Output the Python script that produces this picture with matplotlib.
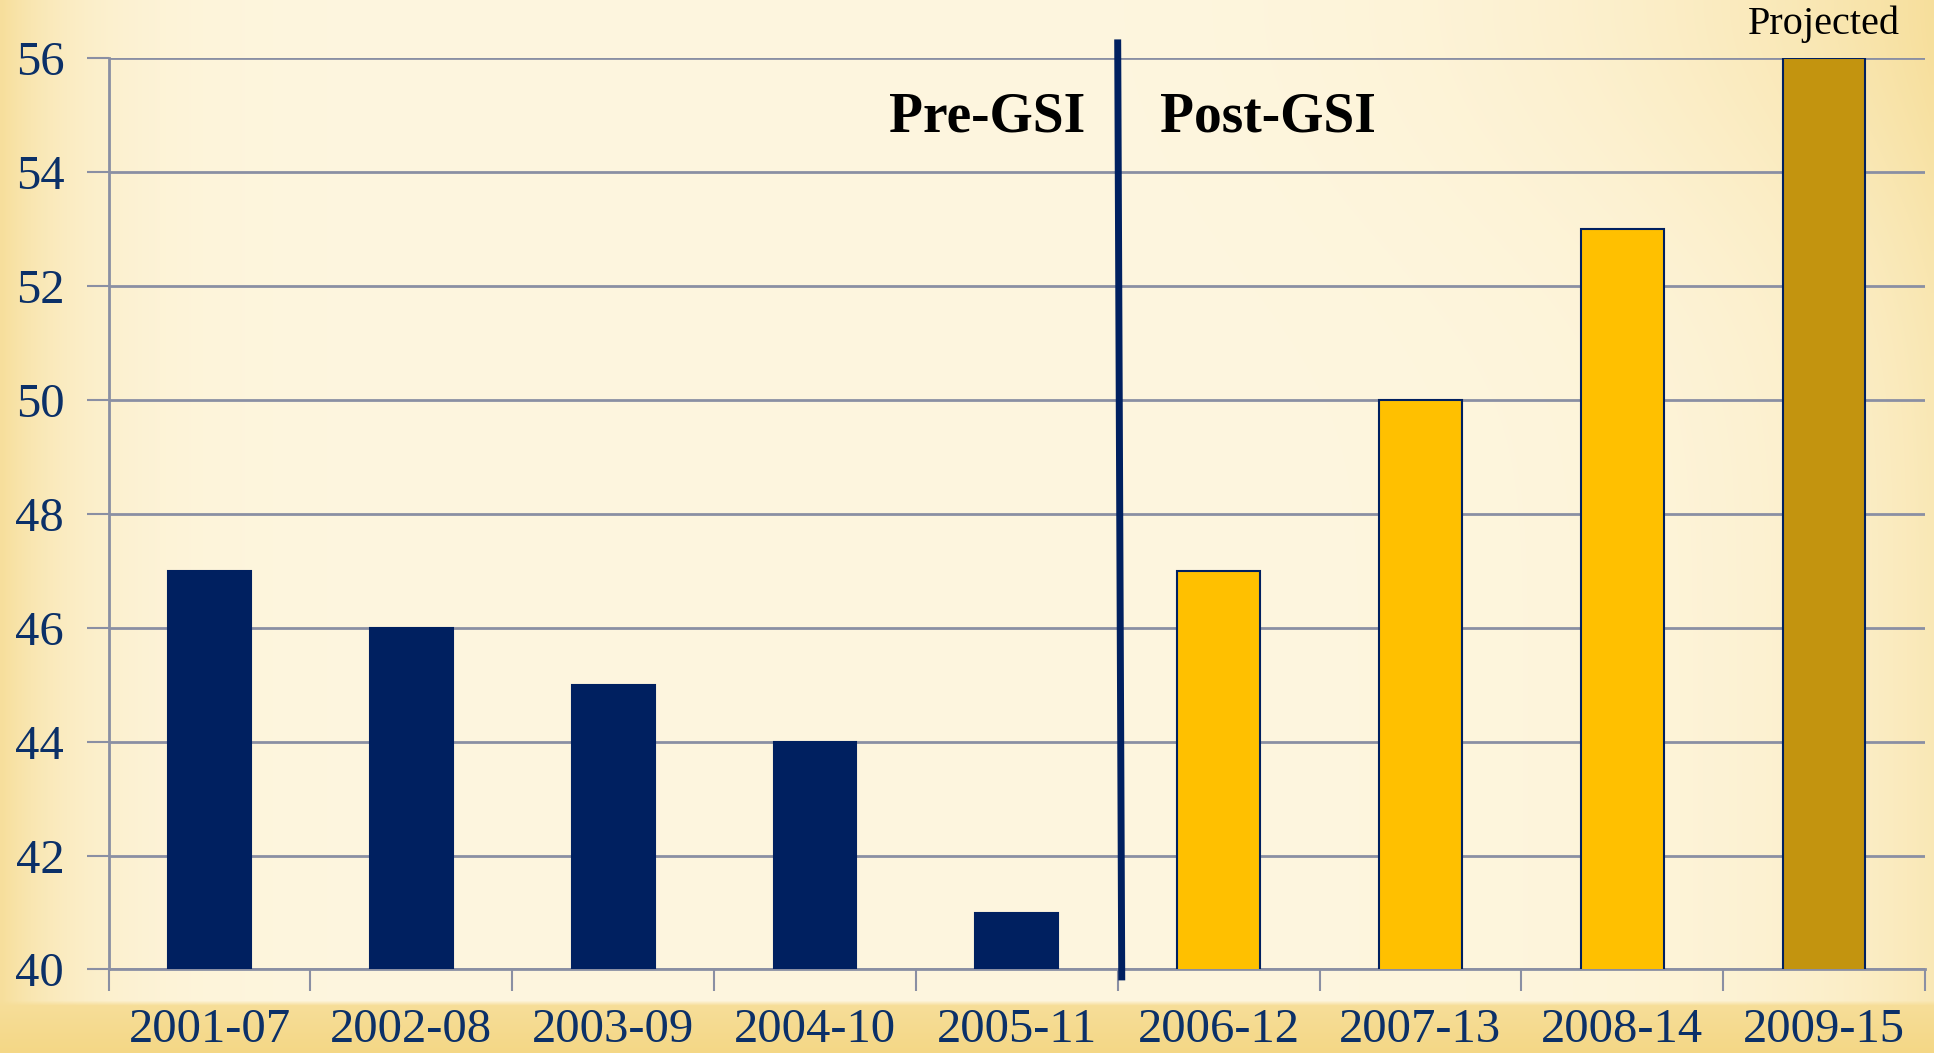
import numpy as np
import matplotlib
matplotlib.use('Agg')
import matplotlib.pyplot as plt

periods = ['2001-07', '2002-08', '2003-09', '2004-10', '2005-11',
           '2006-12', '2007-13', '2008-14', '2009-15']
values = [47, 46, 45, 44, 41, 47, 50, 53, 56]
groups = ['pre', 'pre', 'pre', 'pre', 'pre', 'post', 'post', 'post', 'projected']
y_ticks = [40, 42, 44, 46, 48, 50, 52, 54, 56]

navy = '#002060'
text_navy = '#0b3068'
fill = {'pre': navy, 'post': '#ffc000', 'projected': '#c3940f'}
edge = {'pre': navy, 'post': navy, 'projected': navy}
serif = ['Liberation Serif', 'DejaVu Serif']

fig = plt.figure(figsize=(19.34, 10.53), dpi=100)

# warm cream background, darker at the edges and a yellow band at the bottom
bg = fig.add_axes([0, 0, 1, 1], zorder=-10)
h, w = 211, 387
yy, xx = np.mgrid[0:h, 0:w]
u = xx / (w - 1)
v = yy / (h - 1)
cream = np.array([254, 246, 223]) / 255
gold = np.array([244, 214, 130]) / 255
t = np.clip(0.9 * np.exp(-u / 0.04) + 0.55 * np.exp(-(1 - u) / 0.08)
            + 0.35 * np.exp(-((1 - u) ** 2 + v ** 2) / 0.05), 0, 1)
t = np.where(v > 0.955, 0.75 + 0.2 * (v - 0.955) / 0.045, t * 0.8)
img = cream[None, None, :] * (1 - t[..., None]) + gold[None, None, :] * t[..., None]
bg.imshow(img, aspect='auto', extent=[0, 1, 0, 1], interpolation='bilinear')
bg.set_axis_off()

ax = fig.add_axes([0.0562, 0.0793, 0.9391, 0.8659])
ax.patch.set_alpha(0)
x = np.arange(len(periods))
ax.bar(x, values, width=0.41, bottom=0,
       color=[fill[g] for g in groups],
       edgecolor=[edge[g] for g in groups], linewidth=1.5, zorder=3)

ax.set_xlim(-0.5, len(periods) - 0.5)
ax.set_ylim(40, 56)
ax.set_yticks(y_ticks)
ax.set_yticklabels([str(t) for t in y_ticks], fontsize=35, color=text_navy,
                   family=serif)
ax.yaxis.grid(True, color='#8a8fa3', linewidth=2, zorder=0)
ax.set_axisbelow(True)

ax.set_xticks(np.arange(-0.5, len(periods)), minor=False)
ax.set_xticklabels([])
ax.tick_params(axis='x', length=16, color='#8a8fa3', width=1.5, direction='out')
ax.tick_params(axis='y', length=16, color='#8a8fa3', width=1.5, pad=16)
ax.set_xticks(x, minor=True)
ax.set_xticklabels(periods, minor=True, fontsize=35, color=text_navy, family=serif)
ax.tick_params(axis='x', which='minor', length=0, pad=28)

for s in ['top', 'right']:
    ax.spines[s].set_visible(False)
for s in ['left', 'bottom']:
    ax.spines[s].set_color('#8a8fa3')
    ax.spines[s].set_linewidth(2)

# Pre/Post divider
ax.plot([4.5, 4.52], [56.26, 39.87], color=navy, linewidth=5, clip_on=False, zorder=5)
ax.text(4.34, 54.95, 'Pre-GSI', ha='right', va='center', fontsize=40,
        fontweight='bold', color='black', family=serif)
ax.text(4.71, 54.95, 'Post-GSI', ha='left', va='center', fontsize=40,
        fontweight='bold', color='black', family=serif)
ax.text(8, 56.25, 'Projected', ha='center', va='bottom', fontsize=29,
        color='black', family=serif, clip_on=False)

fig.savefig('out.png', dpi=100)
